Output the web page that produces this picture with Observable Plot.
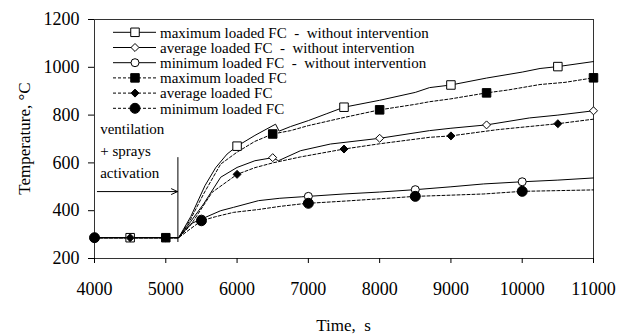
<!DOCTYPE html>
<html>
<head>
<meta charset="utf-8">
<script src="https://cdn.jsdelivr.net/npm/d3@7"></script>
<script src="https://cdn.jsdelivr.net/npm/@observablehq/plot@0.6"></script>
<style>
  html, body { margin: 0; padding: 0; background: #fff; }
  #chart { width: 626px; height: 334px; }
</style>
</head>
<body>
<div id="chart"></div>
<script>
// ---- tick values ----
const xTicks = [4000, 5000, 6000, 7000, 8000, 9000, 10000, 11000];
const yTicks = [200, 400, 600, 800, 1000, 1200];

// ---- curves (time s, temperature °C) ----
const maxFreeT = [4000,5000,5180,5350,5550,5700,5860,6000,6250,6540,6590,6750,7000,7250,7500,8000,8500,8700,9000,9500,10000,10250,10500,11000];
const maxFreeV = [287,287,287,375,505,580,637,670,715,762,733,752,777,805,833,862,895,915,926,955,980,995,1003,1024];

const maxIntT = [4000,5180,5350,5530,5770,6000,6250,6500,6750,7000,7500,8000,8500,8700,9000,9500,9800,10250,10600,11000];
const maxIntV = [287,287,365,470,595,645,690,721,735,756,790,822,845,856,868,893,905,928,937,956];

const avgFreeT = [4000,5180,5350,5530,5770,6000,6250,6500,6580,6890,7310,8000,8700,9000,9500,10100,10500,11000];
const avgFreeV = [287,287,355,428,540,581,609,622,609,651,679,703,735,745,759,788,800,818];

const avgIntT = [4000,5180,5350,5650,6000,6250,6500,6890,7500,8000,8700,9000,9650,10500,11000];
const avgIntV = [287,287,340,477,552,580,600,625,658,680,707,713,739,764,783];

const minFreeT = [4000,5180,5350,5500,5770,5950,6300,6600,6900,7000,7500,8000,8500,9000,9460,10000,10500,11000];
const minFreeV = [287,287,345,365,400,414,442,452,458,460,470,478,488,500,512,521,528,537];

const minIntT = [4000,5180,5350,5500,5700,5950,6300,6600,6890,7000,7500,8060,8500,9000,9460,10000,10500,11000];
const minIntV = [287,287,325,358,375,393,405,418,428,431,440,451,460,465,470,481,484,487];

// ---- markers ----
const openSqT = [4500,6000,7500,9000,10500];   const openSqV = [287,670,833,926,1003];
const fillSqT = [5000,6500,8000,9500,11000];   const fillSqV = [287,721,822,893,956];
const openDiT = [5000,6500,8000,9500,11000];   const openDiV = [287,622,703,759,818];
const fillDiT = [4500,6000,7500,9000,10500];   const fillDiV = [287,552,658,713,764];
const openCiT = [4000,5500,7000,8500,10000];   const openCiV = [287,365,460,488,521];
const fillCiT = [4000,5500,7000,8500,10000];   const fillCiV = [287,358,431,460,481];

// ---- legend / annotation text ----
const legendLabels = [
  "maximum loaded FC  -  without intervention",
  "average loaded FC  -  without intervention",
  "minimum loaded FC  -  without intervention",
  "maximum loaded FC",
  "average loaded FC",
  "minimum loaded FC"
];
const annotLines = ["ventilation", "+ sprays", "activation"];
const annotY = [743, 651, 559];
const arrowData = [{x1: 4040, x2: 5165, y: 480}];
const activationLine = [{x: 5170, y1: 267, y2: 622}];

const zip = (t, v) => t.map((d, i) => ({t: d, v: v[i]}));
const DASH = "3,2";
const FONT = "'Liberation Serif', 'Times New Roman', serif";

const lineMark = (t, v, dash) => Plot.line(zip(t, v), {x: "t", y: "v", stroke: "black", strokeWidth: 1, strokeDasharray: dash});
const dotMark = (t, v, symbol, r, fill) => Plot.dot(zip(t, v), {x: "t", y: "v", symbol, r, fill, stroke: "black", strokeWidth: 1});

const chart = Plot.plot({
  width: 626, height: 334,
  marginLeft: 94, marginRight: 33, marginTop: 19, marginBottom: 76,
  style: {fontFamily: FONT, fontSize: "18px", background: "white", color: "black", overflow: "visible"},
  x: {domain: [4000, 11000]},
  y: {domain: [200, 1200]},
  marks: [
    Plot.frame({stroke: "#333", strokeWidth: 1}),
    Plot.axisX({ticks: xTicks, tickSize: 5, tickPadding: 19, tickFormat: d => String(d), label: null, fontSize: 18}),
    Plot.axisY({ticks: yTicks, tickSize: 6, tickPadding: 9, tickFormat: d => String(d), label: null, fontSize: 18}),
    lineMark(maxFreeT, maxFreeV, null),
    lineMark(avgFreeT, avgFreeV, null),
    lineMark(minFreeT, minFreeV, null),
    lineMark(maxIntT, maxIntV, DASH),
    lineMark(avgIntT, avgIntV, DASH),
    lineMark(minIntT, minIntV, DASH),
    dotMark(openSqT, openSqV, "square", 4.8, "white"),
    dotMark(openDiT, openDiV, "diamond2", 3.6, "white"),
    dotMark(openCiT, openCiV, "circle", 4, "white"),
    dotMark(fillSqT, fillSqV, "square", 4.8, "black"),
    dotMark(fillDiT, fillDiV, "diamond2", 3.6, "black"),
    dotMark(fillCiT, fillCiV, "circle", 5, "black"),
    Plot.text(annotLines.map((s, i) => ({s, y: annotY[i]})), {x: 4080, y: "y", text: "s", textAnchor: "start", lineAnchor: "middle", fontSize: 15, fill: "black"}),
    Plot.arrow(arrowData, {x1: "x1", x2: "x2", y1: "y", y2: "y", stroke: "black", strokeWidth: 1, headLength: 10, headAngle: 50}),
    Plot.ruleX(activationLine, {x: "x", y1: "y1", y2: "y2", stroke: "black", strokeWidth: 1})
  ]
});

const svg = d3.select(chart);

// legend
const legendStyles = [
  {dash: null, symbol: d3.symbolSquare, r: 4.8, fill: "white"},
  {dash: null, symbol: d3.symbolDiamond2, r: 3.6, fill: "white"},
  {dash: null, symbol: d3.symbolCircle, r: 4, fill: "white"},
  {dash: DASH, symbol: d3.symbolSquare, r: 4.8, fill: "black"},
  {dash: DASH, symbol: d3.symbolDiamond2, r: 3.6, fill: "black"},
  {dash: DASH, symbol: d3.symbolCircle, r: 5, fill: "black"}
];
const lg = svg.append("g").attr("font-family", FONT).attr("font-size", 15).attr("text-anchor", "start");
legendLabels.forEach((label, i) => {
  const y = 32.3 + i * 15.2;
  const st = legendStyles[i];
  lg.append("line").attr("x1", 113).attr("x2", 156).attr("y1", y).attr("y2", y)
    .attr("stroke", "black").attr("stroke-width", 1).attr("stroke-dasharray", st.dash);
  lg.append("path").attr("transform", `translate(135,${y})`)
    .attr("d", d3.symbol(st.symbol, Math.PI * st.r * st.r)())
    .attr("fill", st.fill).attr("stroke", "black");
  lg.append("text").attr("x", 160).attr("y", y).attr("dy", "0.35em").attr("fill", "black")
    .attr("text-anchor", "start").style("white-space", "pre").text(label);
});

// axis titles
svg.append("text").attr("transform", "translate(24,138.5) rotate(-90)")
  .attr("text-anchor", "middle").attr("dy", "0.35em").attr("font-family", FONT).attr("font-size", 17)
  .attr("fill", "black").text("Temperature, °C");
svg.append("text").attr("x", 343.5).attr("y", 325).attr("dy", "0.35em")
  .attr("text-anchor", "middle").attr("font-family", FONT).attr("font-size", 17)
  .attr("fill", "black").text("Time,  s");

document.getElementById("chart").appendChild(chart);
</script>
</body>
</html>
